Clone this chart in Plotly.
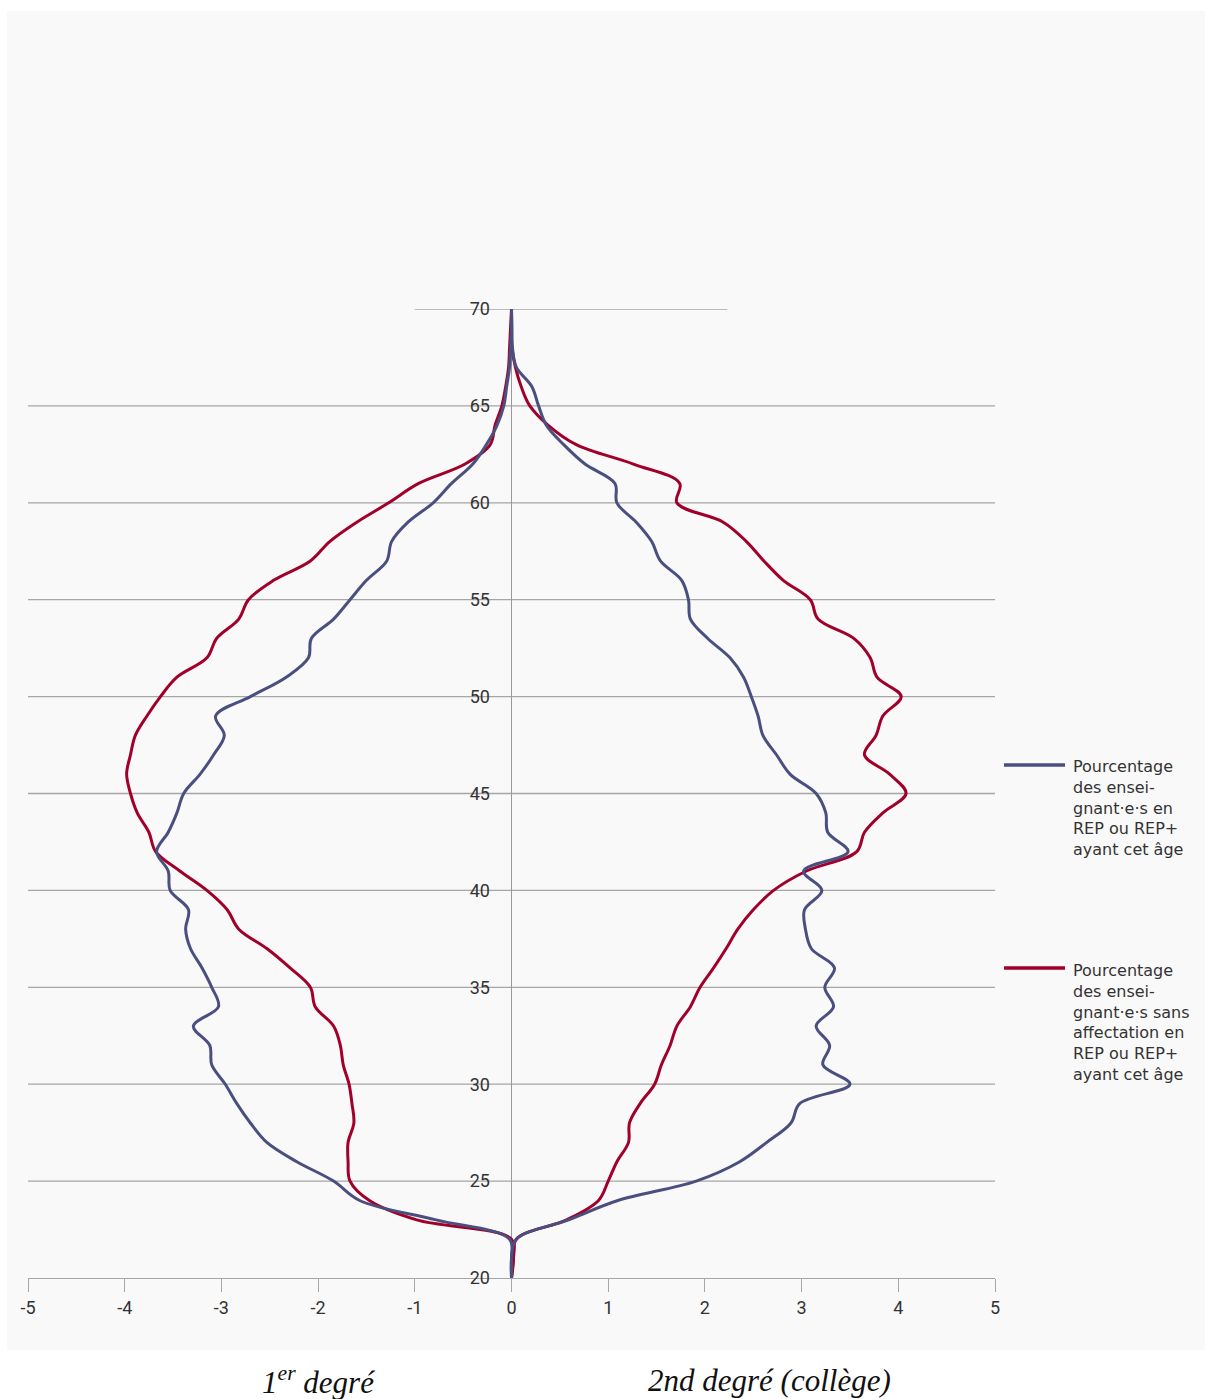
import plotly.graph_objects as go

ages = list(range(20, 71))

# 1er degré (left, negative) and 2nd degré (right, positive)
rep_1er = [0, 0, -0.02, -0.78, -1.57, -1.84, -2.22, -2.53, -2.70, -2.84,
           -2.96, -3.10, -3.12, -3.29, -3.03, -3.10, -3.20, -3.32, -3.37, -3.34,
           -3.53, -3.55, -3.67, -3.55, -3.46, -3.39, -3.22, -3.08, -2.97, -3.06,
           -2.70, -2.33, -2.10, -2.07, -1.84, -1.67, -1.50, -1.29, -1.24, -1.07,
           -0.81, -0.62, -0.40, -0.26, -0.15, -0.08, -0.05, -0.02, -0.01, 0, 0]
hors_1er = [0, 0.02, 0.0, -0.98, -1.47, -1.67, -1.69, -1.69, -1.63, -1.65,
            -1.68, -1.74, -1.77, -1.84, -2.03, -2.08, -2.29, -2.53, -2.82, -2.94,
            -3.15, -3.43, -3.68, -3.75, -3.87, -3.94, -3.98, -3.94, -3.89, -3.77,
            -3.63, -3.46, -3.15, -3.05, -2.82, -2.72, -2.46, -2.08, -1.88, -1.60,
            -1.27, -0.96, -0.48, -0.22, -0.17, -0.10, -0.06, -0.03, -0.02, -0.01, 0]
rep_2nd = [0, 0, 0.05, 0.59, 1.10, 1.91, 2.36, 2.64, 2.89, 2.98,
           3.50, 3.22, 3.29, 3.15, 3.33, 3.24, 3.34, 3.10, 3.04, 3.03,
           3.21, 3.02, 3.48, 3.27, 3.25, 3.15, 2.88, 2.74, 2.60, 2.55,
           2.48, 2.40, 2.26, 2.03, 1.85, 1.83, 1.76, 1.54, 1.45, 1.29,
           1.09, 1.07, 0.76, 0.54, 0.36, 0.28, 0.21, 0.05, 0.01, 0.005, 0]
hors_2nd = [0, 0.02, 0.05, 0.57, 0.90, 1.00, 1.09, 1.21, 1.22, 1.33,
            1.48, 1.55, 1.64, 1.71, 1.85, 1.95, 2.09, 2.22, 2.34, 2.50,
            2.71, 3.05, 3.57, 3.65, 3.84, 4.08, 3.91, 3.65, 3.77, 3.84,
            4.03, 3.78, 3.71, 3.54, 3.17, 3.09, 2.81, 2.61, 2.43, 2.19,
            1.71, 1.74, 1.26, 0.67, 0.38, 0.19, 0.10, 0.04, 0.005, 0, 0]

x_tickvals = [-5, -4, -3, -2, -1, 0, 1, 2, 3, 4, 5]
x_ticktext = ["-5", "-4", "-3", "-2", "-1", "0", "1", "2", "3", "4", "5"]
y_tickvals = [20, 25, 30, 35, 40, 45, 50, 55, 60, 65, 70]
y_ticktext = ["20", "25", "30", "35", "40", "45", "50", "55", "60", "65", "70"]

legend_rep = "Pourcentage<br>des ensei-<br>gnant·e·s en<br>REP ou REP+<br>ayant cet âge"
legend_hors = ("Pourcentage<br>des ensei-<br>gnant·e·s sans<br>affectation en"
               "<br>REP ou REP+<br>ayant cet âge")
label_left = "1<sup>er</sup> degré"
label_right = "2nd degré (collège)"

BLUE = "#4a4f80"
RED = "#a0002a"
GRID = "#a6a6a6"
BG = "#f9f9f9"
TXT = "#333333"

fig = go.Figure()
for xs, col, name in [(hors_1er, RED, "hors 1er"), (hors_2nd, RED, "hors 2nd"),
                      (rep_1er, BLUE, "rep 1er"), (rep_2nd, BLUE, "rep 2nd")]:
    fig.add_trace(go.Scatter(x=xs, y=ages, mode="lines", name=name,
                             line=dict(color=col, width=3, shape="spline", smoothing=1.0),
                             showlegend=False, hoverinfo="skip"))

shapes = []
# page background panel
shapes.append(dict(type="rect", xref="paper", yref="paper",
                   x0=-0.0217, x1=1.2172, y0=-0.0743, y1=1.3075,
                   fillcolor=BG, line=dict(width=0), layer="below"))
# horizontal gridlines
for v in y_tickvals[1:-1]:
    shapes.append(dict(type="line", xref="paper", yref="y", x0=0, x1=1, y0=v, y1=v,
                       line=dict(color=GRID, width=1.3), layer="below"))
shapes.append(dict(type="line", xref="x", yref="y", x0=-1.0, x1=2.23, y0=70, y1=70,
                   line=dict(color=GRID, width=1.3), layer="below"))
# legend lines
shapes.append(dict(type="line", xref="paper", yref="paper", x0=1.0093, x1=1.0724,
                   y0=0.5294, y1=0.5294, line=dict(color=BLUE, width=3.5)))
shapes.append(dict(type="line", xref="paper", yref="paper", x0=1.0093, x1=1.0724,
                   y0=0.3199, y1=0.3199, line=dict(color=RED, width=3.5)))

LEG_FONT = dict(family="DejaVu Sans", size=16, color=TXT)
annotations = [
    dict(text=legend_rep, xref="paper", yref="paper", x=1.0787, y=0.5395,
         xanchor="left", yanchor="top", align="left", showarrow=False, font=LEG_FONT),
    dict(text=legend_hors, xref="paper", yref="paper", x=1.0787, y=0.3295,
         xanchor="left", yanchor="top", align="left", showarrow=False, font=LEG_FONT),
    dict(text=label_left, xref="paper", yref="paper", x=0.2999, y=-0.1053,
         xanchor="center", yanchor="middle", showarrow=False,
         font=dict(family="Liberation Serif", size=31, color="#111111", style="italic")),
    dict(text=label_right, xref="paper", yref="paper", x=0.7673, y=-0.1053,
         xanchor="center", yanchor="middle", showarrow=False,
         font=dict(family="Liberation Serif", size=31, color="#111111", style="italic")),
]

fig.update_layout(
    width=1206, height=1399, autosize=False,
    margin=dict(l=28, r=211, t=309, b=121, pad=0),
    paper_bgcolor="white", plot_bgcolor=BG,
    shapes=shapes, annotations=annotations, showlegend=False,
    xaxis=dict(range=[-5, 5], tickvals=x_tickvals, ticktext=x_ticktext,
               showgrid=False, zeroline=True, zerolinecolor="#999999", zerolinewidth=1.3,
               showline=True, linecolor=GRID, linewidth=1.3,
               ticks="outside", ticklen=13, tickcolor=GRID, tickwidth=1.3,
               tickfont=dict(family="Roboto", size=18, color=TXT),
               fixedrange=True),
    yaxis=dict(range=[20, 70], tickvals=y_tickvals, ticktext=y_ticktext,
               anchor="free", position=0.5, side="left",
               showgrid=False, zeroline=False, showline=False,
               ticks="outside", ticklen=18, tickcolor="rgba(0,0,0,0)",
               tickfont=dict(family="Roboto", size=18, color=TXT),
               fixedrange=True),
)

fig.write_html("out.html", config={"displayModeBar": False},
               post_script="document.body.style.margin='0';document.body.style.overflow='hidden';")
